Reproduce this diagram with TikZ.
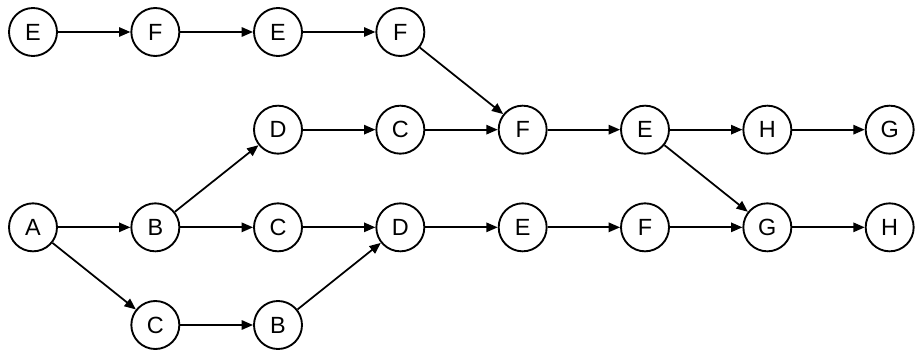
\documentclass[tikz,border=0pt]{standalone}
\usepackage{fontspec}
\setmainfont{Liberation Sans}
\usetikzlibrary{arrows.meta}
\tikzset{
  every picture/.style={line width=1.6pt},
  state/.style={draw, circle, minimum size=1.44cm, inner sep=0pt, font=\fontsize{20}{22}\selectfont},
  arrow/.style={-{Triangle[length=3.4mm, width=2.8mm]}, line width=1.5pt},
}
\begin{document}
\begin{tikzpicture}
  \useasboundingbox (-0.99,0.96) rectangle (26.67,-9.78);
  % top row
  \node[state] (e1) at (0,0) {E};
  \node[state] (f1) at (3.67,0) {F};
  \node[state] (e2) at (7.35,0) {E};
  \node[state] (f2) at (11.02,0) {F};
  % second row
  \node[state] (d1) at (7.35,-2.93) {D};
  \node[state] (c1) at (11.02,-2.93) {C};
  \node[state] (f3) at (14.69,-2.93) {F};
  \node[state] (e3) at (18.36,-2.93) {E};
  \node[state] (h1) at (22.03,-2.93) {H};
  \node[state] (g1) at (25.70,-2.93) {G};
  % third row
  \node[state] (a) at (0,-5.86) {A};
  \node[state] (b) at (3.67,-5.86) {B};
  \node[state] (c) at (7.35,-5.86) {C};
  \node[state] (d) at (11.02,-5.86) {D};
  \node[state] (e) at (14.69,-5.86) {E};
  \node[state] (f) at (18.36,-5.86) {F};
  \node[state] (g) at (22.03,-5.86) {G};
  \node[state] (h) at (25.70,-5.86) {H};
  % bottom row
  \node[state] (c2) at (3.67,-8.79) {C};
  \node[state] (b2) at (7.35,-8.79) {B};
  % edges
  \draw[arrow] (e1) -- (f1);
  \draw[arrow] (f1) -- (e2);
  \draw[arrow] (e2) -- (f2);
  \draw[arrow] (f2) -- (f3);
  \draw[arrow] (d1) -- (c1);
  \draw[arrow] (c1) -- (f3);
  \draw[arrow] (f3) -- (e3);
  \draw[arrow] (e3) -- (h1);
  \draw[arrow] (h1) -- (g1);
  \draw[arrow] (e3) -- (g);
  \draw[arrow] (a) -- (b);
  \draw[arrow] (b) -- (c);
  \draw[arrow] (c) -- (d);
  \draw[arrow] (d) -- (e);
  \draw[arrow] (e) -- (f);
  \draw[arrow] (f) -- (g);
  \draw[arrow] (g) -- (h);
  \draw[arrow] (b) -- (d1);
  \draw[arrow] (a) -- (c2);
  \draw[arrow] (c2) -- (b2);
  \draw[arrow] (b2) -- (d);
\end{tikzpicture}
\end{document}
